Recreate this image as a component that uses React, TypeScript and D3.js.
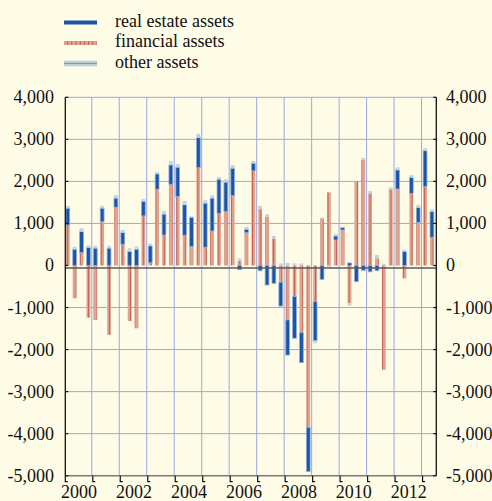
import React, { useEffect } from 'react';
import * as d3 from 'd3';

// quarterly contributions, 2000Q1 .. 2013Q2
const startYear = 2000;
const financial = [960, -780, 305, -1240, -1300, 1040, -1650, 1385, 505, -1320, -1495, 1180, 65, 1815, 725, 1930, 1640, 720, 455, 2325, 435, 820, 1240, 1280, 1660, 115, 780, 2250, 1340, 1160, 640, -400, -1295, -740, -1600, -3850, -860, 1120, 1740, 605, 845, -900, 1995, 2510, 1715, 170, -2480, 1810, 1820, -305, 1715, 1020, 1875, 670];
const realEstate = [400, 385, 500, 425, 410, 320, 410, 215, 275, 330, 385, 340, 400, 360, 495, 460, 695, 720, 685, 715, 1045, 780, 810, 700, 650, -100, 80, 180, -125, -465, -425, -565, -835, -990, -710, -1050, -930, -330, 0, 95, 55, 60, -385, -115, -150, -125, 0, 0, 450, 330, 375, 355, 855, 610];
const otherAssets = [55, 60, 80, 55, 55, 60, 60, 70, 65, 80, 65, 60, 55, 50, 75, 90, 75, 95, 30, 90, 70, 70, 55, 70, 75, 55, 55, 55, 75, 60, 60, 50, 60, 50, 50, 0, -60, 20, -40, 45, 25, -50, 0, 45, 55, 80, 40, 45, 65, 40, 60, 65, 60, 55];

const yTicks = [4000, 3000, 2000, 1000, 0, -1000, -2000, -3000, -4000, -5000];
const yearTicks = [2000, 2001, 2002, 2003, 2004, 2005, 2006, 2007, 2008, 2009, 2010, 2011, 2012, 2013];
const yearLabels = [2000, 2002, 2004, 2006, 2008, 2010, 2012];

const keys = ['financial', 'realEstate', 'other'];
const legendItems = [
  { key: 'realEstate', label: 'real estate assets' },
  { key: 'financial', label: 'financial assets' },
  { key: 'other', label: 'other assets' },
];

const W = 492;
const H = 501;
const plot = { left: 65.3, right: 436.3, top: 97.3, bottom: 475.7 };
const bg = '#fefbe7';
const gridColor = '#9aa8e4';
const font = '"Liberation Serif", "Times New Roman", serif';

const rows = financial.map((f, i) => ({
  t: startYear + i / 4,
  financial: f,
  realEstate: realEstate[i],
  other: otherAssets[i],
}));

const App: React.FC = () => {
  useEffect(() => {
    document.body.style.margin = '0';
    document.body.style.background = bg;
  }, []);

  const x = d3.scaleLinear().domain([2000, 2013.5]).range([plot.left, plot.right]);
  const y = d3.scaleLinear().domain([-5000, 4000]).range([plot.bottom, plot.top]);

  const series = d3.stack<any>().keys(keys).offset(d3.stackOffsetDiverging)(rows);

  const barW = 3.8;
  const fmt = (v: number) => (v < 0 ? '-' + d3.format(',')(-v) : d3.format(',')(v));

  const fillFor = (key: string) =>
    key === 'financial' ? 'url(#finPat)' : key === 'realEstate' ? '#1c55a8' : '#c2d3dc';

  return (
    <svg width={W} height={H} style={{ display: 'block', background: bg }} fontFamily={font}>
      <defs>
        <pattern id="finPat" patternUnits="userSpaceOnUse" width={4.2} height={4}>
          <rect width={4.2} height={4} fill="#e0a391" />
          <rect x={0} width={0.9} height={4} fill="#bf4a3c" opacity={0.8} />
        </pattern>
      </defs>
      <rect width={W} height={H} fill={bg} />

      {/* grid */}
      {yTicks.filter(v => v !== 0 && v !== -5000).map(v => (
        <line key={'gy' + v} x1={plot.left} x2={plot.right} y1={y(v)} y2={y(v)} stroke={gridColor} strokeWidth={1} />
      ))}
      {yearTicks.filter(v => v > 2000).map(v => (
        <line key={'gx' + v} x1={x(v) - 1} x2={x(v) - 1} y1={plot.top} y2={plot.bottom} stroke={gridColor} strokeWidth={1} />
      ))}

      {/* bars */}
      {series.map(s => (
        <g key={s.key}>
          {s.map((d, i) => {
            const y0 = y(Math.max(d[0], d[1]));
            const y1 = y(Math.min(d[0], d[1]));
            if (y1 - y0 < 0.2) return null;
            return (
              <rect
                key={i}
                x={x(rows[i].t) + 0.6}
                y={y0}
                width={barW}
                height={y1 - y0}
                fill={fillFor(s.key)}
                stroke={s.key === 'realEstate' ? '#8eaed6' : 'none'}
                strokeWidth={0.8}
              />
            );
          })}
        </g>
      ))}

      {/* zero line */}
      <line x1={plot.left} x2={plot.right} y1={y(0) + 2.5} y2={y(0) + 2.5} stroke="#5a5a5a" strokeWidth={1.3} />

      {/* axes */}
      <line x1={plot.left} x2={plot.right} y1={plot.bottom} y2={plot.bottom} stroke="#7a7a7a" strokeWidth={1.6} />
      <line x1={plot.left} x2={plot.left} y1={plot.top} y2={plot.bottom} stroke="#111" strokeWidth={1.3} />
      <line x1={plot.right} x2={plot.right} y1={plot.top} y2={plot.bottom} stroke="#111" strokeWidth={1.3} />
      {yTicks.map(v => (
        <g key={'yt' + v}>
          <line x1={plot.left} x2={plot.left + 3} y1={y(v)} y2={y(v)} stroke="#111" strokeWidth={1.2} />
          <line x1={plot.right - 3} x2={plot.right} y1={y(v)} y2={y(v)} stroke="#111" strokeWidth={1.2} />
          <text x={54} y={y(v) + 6} textAnchor="end" fontSize={18} fill="#111">{fmt(v)}</text>
          <text x={446} y={y(v) + 6} textAnchor="start" fontSize={18} fill="#111">{fmt(v)}</text>
        </g>
      ))}
      {yearTicks.map(v => (
        <path
          key={'xt' + v}
          d={`M${x(v)},${plot.bottom} V${plot.bottom + 6} H${x(v) + 2.5}`}
          fill="none"
          stroke="#111"
          strokeWidth={1.2}
        />
      ))}
      {yearLabels.map(v => (
        <text key={'xl' + v} x={x(v + 0.5)} y={498} textAnchor="middle" fontSize={18} fill="#111">{v}</text>
      ))}

      {/* legend */}
      {legendItems.map((item, i) => {
        const cy = 22.5 + i * 20.5;
        return (
          <g key={item.key}>
            {item.key === 'other' ? (
              <g>
                <rect x={64} y={cy - 2.8} width={33} height={5.6} fill="#bcd0da" />
                <line x1={64} x2={97} y1={cy} y2={cy} stroke="#7b9cae" strokeWidth={1.2} />
              </g>
            ) : (
              <rect x={64} y={cy - 2} width={33} height={4} fill={fillFor(item.key)} />
            )}
            <text x={115} y={cy + 4} fontSize={18} fill="#111">{item.label}</text>
          </g>
        );
      })}
    </svg>
  );
};

export default App;
